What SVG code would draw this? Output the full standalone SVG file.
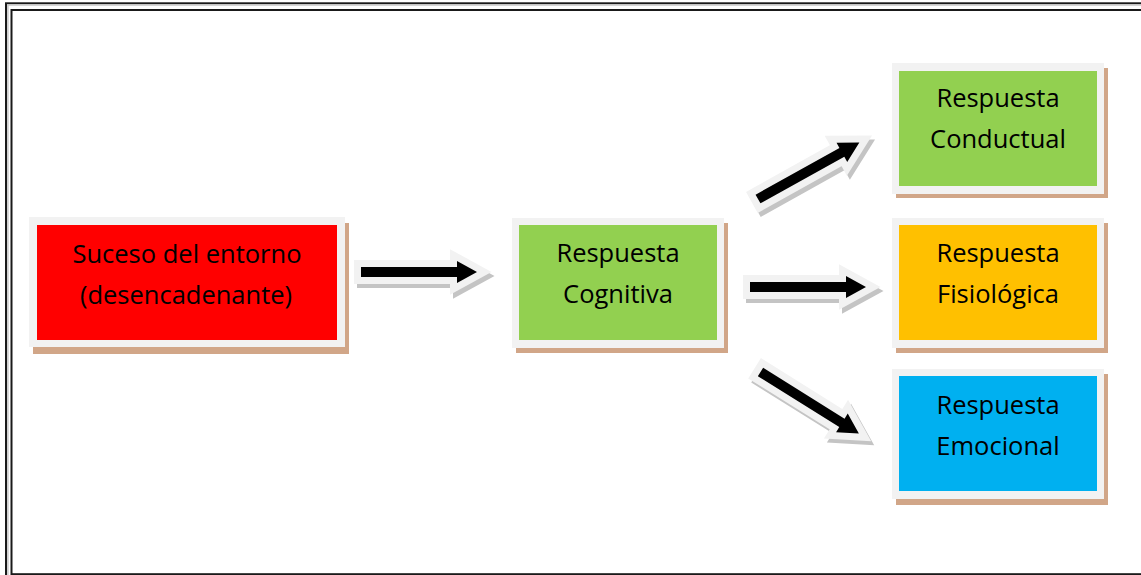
<svg xmlns="http://www.w3.org/2000/svg" xmlns:xlink="http://www.w3.org/1999/xlink" width="1141" height="575" viewBox="0 0 1141 575">
  <style>
    .frame { fill: #F2F2F2; }
    .shadow { fill: #D1A688; }
    .label { font-family: "Open Sans", "Liberation Sans", sans-serif; font-size: 25.5px; fill: #000; text-anchor: middle; }
    .arr { fill: #000; stroke: #F2F2F2; stroke-width: 14; stroke-linejoin: miter; paint-order: stroke; }
    .arrsh { fill: #C4C4C4; stroke: #C4C4C4; stroke-width: 14; stroke-linejoin: miter; }
  </style>
  <defs>
    <polygon id="blockArrow" points="0,-5 96,-5 96,-11 116,0 96,11 96,5 0,5"/>
  </defs>
  <rect width="1141" height="575" fill="#FFFFFF"/>
  <g id="border" fill="none">
    <rect x="6" y="3.3" width="1200" height="620" stroke="#1a1a1a" stroke-width="2"/>
    <rect x="7.9" y="5" width="1200" height="620" stroke="#C8C8C8" stroke-width="1.5"/>
    <rect x="11.5" y="10" width="1200" height="564.2" stroke="#1a1a1a" stroke-width="2"/>
  </g>

  <g id="connectors">
    <g transform="translate(3,4)">
      <use xlink:href="#blockArrow" class="arrsh" transform="translate(361,272)"/>
      <use xlink:href="#blockArrow" class="arrsh" transform="translate(750,287)"/>
      <use xlink:href="#blockArrow" class="arrsh" transform="translate(758,199) rotate(-29.1)"/>
      <use xlink:href="#blockArrow" class="arrsh" transform="translate(760.5,372) rotate(32)"/>
    </g>
    <use xlink:href="#blockArrow" class="arr" transform="translate(361,272)"/>
    <use xlink:href="#blockArrow" class="arr" transform="translate(750,287)"/>
    <use xlink:href="#blockArrow" class="arr" transform="translate(758,199) rotate(-29.1)"/>
    <use xlink:href="#blockArrow" class="arr" transform="translate(760.5,372) rotate(32)"/>
  </g>

  <g id="suceso">
    <rect class="shadow" x="33" y="223" width="316" height="131"/>
    <rect class="frame" x="29" y="217" width="316" height="130"/>
    <rect x="37" y="225" width="300" height="115" fill="#FF0000"/>
    <text class="label" x="187" y="263">Suceso del entorno</text>
    <text class="label" x="186" y="304">(desencadenante)</text>
  </g>

  <g id="cognitiva">
    <rect class="shadow" x="516" y="223" width="212" height="130"/>
    <rect class="frame" x="512" y="218" width="212" height="130"/>
    <rect x="519" y="225" width="198" height="115" fill="#92D050"/>
    <text class="label" x="618" y="262">Respuesta</text>
    <text class="label" x="618" y="303">Cognitiva</text>
  </g>

  <g id="conductual">
    <rect class="shadow" x="896" y="68" width="212" height="130"/>
    <rect class="frame" x="892" y="63" width="212" height="131"/>
    <rect x="899" y="71" width="198" height="115" fill="#92D050"/>
    <text class="label" x="998" y="107">Respuesta</text>
    <text class="label" x="998" y="148">Conductual</text>
  </g>

  <g id="fisiologica">
    <rect class="shadow" x="896" y="223" width="212" height="130"/>
    <rect class="frame" x="892" y="218" width="212" height="130"/>
    <rect x="899" y="225" width="198" height="115" fill="#FFC000"/>
    <text class="label" x="998" y="262">Respuesta</text>
    <text class="label" x="998" y="303">Fisiológica</text>
  </g>

  <g id="emocional">
    <rect class="shadow" x="896" y="374" width="212" height="131"/>
    <rect class="frame" x="892" y="369" width="212" height="130"/>
    <rect x="899" y="376" width="198" height="115" fill="#00B0F0"/>
    <text class="label" x="998" y="414">Respuesta</text>
    <text class="label" x="998" y="455">Emocional</text>
  </g>
</svg>
